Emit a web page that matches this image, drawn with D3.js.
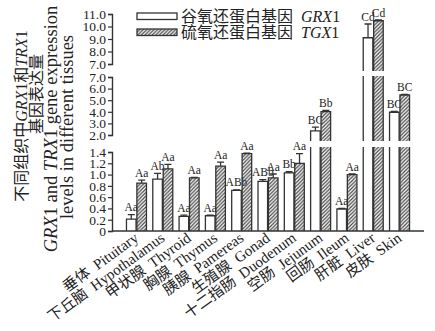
<!DOCTYPE html>
<html>
<head>
<meta charset="utf-8">
<script src="https://cdn.jsdelivr.net/npm/d3@7/dist/d3.min.js"></script>
<style>
  html, body { margin: 0; padding: 0; background: #fff; }
  svg { display: block; }
  text { font-family: "Liberation Serif", "Noto Sans CJK SC", serif; fill: #222; }
</style>
</head>
<body>
<svg id="chart" width="435" height="331"></svg>
<script>
// Tissues (Chinese / English names)
const tissuesZh = ["垂体", "下丘脑", "甲状腺", "胸腺", "胰腺", "生殖腺", "十二指肠", "空肠", "回肠", "肝脏", "皮肤"];
const tissuesEn = ["Pituitary", "Hypothalamus", "Thyroid", "Thymus", "Pamereas", "Gonad", "Duodenum", "Jejunum", "Ileum", "Liver", "Skin"];

// Relative expression: mean and SE per tissue
const grx1    = [0.21, 0.92, 0.26, 0.27, 0.72, 0.88, 1.03, 2.36, 0.39, 9.10, 3.96];
const grx1Err = [0.08, 0.10, 0.02, 0.01, 0.01, 0.03, 0.02, 0.32, 0.01, 1.10, 0.08];
const tgx1    = [0.85, 1.10, 0.94, 1.15, 1.37, 0.94, 1.20, 4.02, 1.00, 10.46, 5.45];
const tgx1Err = [0.05, 0.08, 0.01, 0.07, 0.01, 0.07, 0.17, 0.10, 0.01, 0.06, 0.06];

// Significance letters
const grx1Sig = ["Aa", "Ab", "Aa", "Aa", "ABb", "ABb", "Bb", "BC", "Aa", "Cd", "BC"];
const tgx1Sig = ["Aa", "Aa", "Aa", "Aa", "Aa", "Aa", "Aa", "Bb", "Aa", "Cd", "BC"];

// Broken y axis: tick values of each segment
const ticksLow  = [0, 0.2, 0.4, 0.6, 0.8, 1.0, 1.2, 1.4];
const ticksMid  = [2, 3, 4, 5, 6, 7];
const ticksHigh = [7, 8, 9, 10, 11];

const seriesNames = ["GRX1", "TGX1"];

const svg = d3.select("#chart");
const ink = "#333";

// hatch pattern for the TGX1 bars
const defs = svg.append("defs");
defs.append("pattern")
  .attr("id", "hatch")
  .attr("patternUnits", "userSpaceOnUse")
  .attr("width", 3.6).attr("height", 3.6)
  .append("path")
  .attr("d", "M-1,1 l2,-2 M0,3.6 l3.6,-3.6 M2.6,4.6 l2,-2")
  .attr("stroke", "#444").attr("stroke-width", 1.2);

const xLeft = 112, xRight = 424, baseY = 231;

// the three y segments (pixel range, how far bars run past the ends)
const segments = [
  { ticks: ticksLow,  px: [231, 152], padLo: 0, padHi: 5 },
  { ticks: ticksMid,  px: [135, 77],  padLo: 6, padHi: 1 },
  { ticks: ticksHigh, px: [64, 14],   padLo: 7, padHi: 0 }
];
segments.forEach(s => {
  s.y = d3.scaleLinear().domain(d3.extent(s.ticks)).range(s.px);
  s.barBottom = s.px[0] + s.padLo;
  s.barTop = s.px[1] - s.padHi;
  s.vBottom = s === segments[0] ? 0 : s.y.invert(s.barBottom);
  s.vTop = s.y.invert(s.barTop);
});

const x0 = d3.scaleBand().domain(tissuesEn).range([xLeft, xRight])
  .paddingInner(0.24).paddingOuter(0.55);
const x1 = d3.scaleBand().domain(seriesNames).range([0, x0.bandwidth()]).paddingInner(0.08);

function segmentOf(v) {
  return segments.find(s => v >= s.vBottom && v <= s.vTop) || segments[segments.length - 1];
}

const rows = tissuesEn.map((t, i) => ({
  t,
  vals: [
    { s: "GRX1", v: grx1[i], e: grx1Err[i], sig: grx1Sig[i], fill: "#fff" },
    { s: "TGX1", v: tgx1[i], e: tgx1Err[i], sig: tgx1Sig[i], fill: "url(#hatch)" }
  ]
}));

const barG = svg.append("g");
rows.forEach(r => {
  r.vals.forEach(d => {
    const l = x0(r.t) + x1(d.s), w = x1.bandwidth(), rgt = l + w, cx = l + w / 2;
    segments.forEach((s, si) => {
      if (si > 0 && d.v <= s.vBottom) return;
      const ends = d.v <= s.vTop;
      const top = ends ? s.y(d.v) : s.barTop;
      const bot = s.barBottom;
      barG.append("rect")
        .attr("x", l).attr("y", top).attr("width", w).attr("height", bot - top)
        .attr("fill", d.fill);
      barG.append("path")
        .attr("d", ends
          ? `M${l},${bot}V${top}H${rgt}V${bot}`
          : `M${l},${bot}V${top}M${rgt},${top}V${bot}`)
        .attr("fill", "none").attr("stroke", ink).attr("stroke-width", 1.3);
    });
    // error bar
    const s = segmentOf(d.v);
    const yv = s.y(d.v), ye = s.y(d.v + d.e);
    barG.append("path")
      .attr("d", `M${cx},${yv}V${ye}M${cx - 3.5},${ye}H${cx + 3.5}`)
      .attr("fill", "none").attr("stroke", ink).attr("stroke-width", 1.3);
    barG.append("text")
      .attr("x", cx).attr("y", ye - 3.5)
      .attr("text-anchor", "middle")
      .attr("font-size", 11.5)
      .text(d.sig);
  });
});

// y axis segments
segments.forEach(s => {
  const g = svg.append("g").attr("transform", `translate(${xLeft},0)`)
    .call(d3.axisLeft(s.y).tickValues(s.ticks).tickSize(4).tickSizeOuter(4)
      .tickFormat(v => v === 0 ? "0" : d3.format(".1f")(v)));
  g.select(".domain").attr("stroke", ink).attr("stroke-width", 1.4);
  g.selectAll(".tick line").attr("stroke", ink).attr("stroke-width", 1.2);
  g.selectAll(".tick text").attr("font-family", "Liberation Serif").attr("font-size", 13.5)
    .attr("fill", "#222").attr("x", -6);
});

// x axis baseline
const xg = svg.append("g").attr("transform", `translate(0,${baseY})`)
  .call(d3.axisBottom(x0).tickSize(0).tickFormat(""));
xg.select(".domain").attr("d", `M${xLeft},0H${xRight}`).attr("stroke", ink).attr("stroke-width", 1.4);

// category labels, rotated
const labG = svg.append("g");
tissuesEn.forEach((t, i) => {
  const cx = x0(t) + x0.bandwidth() / 2;
  labG.append("text")
    .attr("transform", `translate(${cx + 3},${baseY + 9}) rotate(-36)`)
    .attr("text-anchor", "end")
    .attr("font-size", 15)
    .text(tissuesZh[i] + "\u00a0\u00a0" + t);
});

// y title, four rotated lines
const titleLines = [
  [["不同组织中", false], ["GRX", true], ["1和", false], ["TRX", true], ["1", false]],
  [["基因表达量", false]],
  [["GRX", true], ["1 and ", false], ["TRX", true], ["1 gene expression", false]],
  [["levels in different tissues", false]]
];
const titleX = [21, 36, 51, 67];
const titleY = [116, 94, 129, 127];
const titleSize = [16, 16, 18.5, 18.5];
titleLines.forEach((parts, i) => {
  const tx = svg.append("text")
    .attr("transform", `translate(${titleX[i]},${titleY[i]}) rotate(-90)`)
    .attr("text-anchor", "middle")
    .attr("dy", "0.35em")
    .attr("font-size", titleSize[i]);
  parts.forEach(([str, it]) => {
    tx.append("tspan").attr("font-style", it ? "italic" : "normal").text(str);
  });
});

// legend
const legend = [
  { fill: "#fff", zh: "谷氧还蛋白基因", gene: "GRX" },
  { fill: "url(#hatch)", zh: "硫氧还蛋白基因", gene: "TGX" }
];
legend.forEach((d, i) => {
  const ly = 13 + i * 16;
  svg.append("rect").attr("x", 137).attr("y", ly).attr("width", 40).attr("height", 6.5)
    .attr("fill", d.fill).attr("stroke", ink).attr("stroke-width", 1.3);
  const t = svg.append("text").attr("x", 181).attr("y", ly + 3.5).attr("dy", "0.35em")
    .attr("font-size", 16);
  t.append("tspan").text(d.zh + "\u00a0\u00a0");
  t.append("tspan").attr("font-style", "italic").text(d.gene);
  t.append("tspan").text("1");
});
</script>
</body>
</html>
